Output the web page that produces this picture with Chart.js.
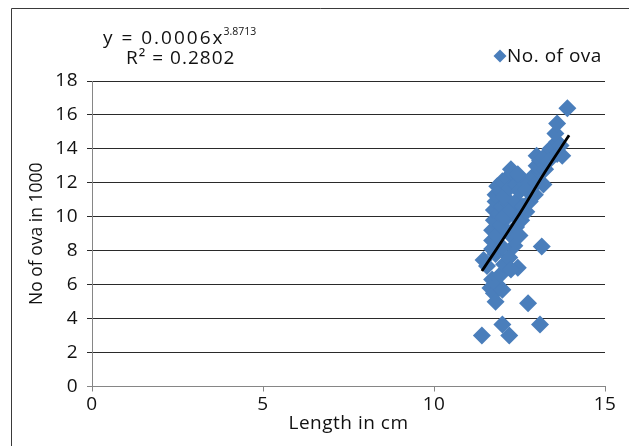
<!DOCTYPE html>
<html><head><meta charset="utf-8">
<script src="https://cdn.jsdelivr.net/npm/chart.js@4/dist/chart.umd.min.js"></script>
<style>html,body{margin:0;padding:0;background:#fff}canvas{display:block}</style>
</head><body>
<canvas id="c" width="629" height="446"></canvas>
<script>
// ---- data ----
const lengthCm = [
  11.45,11.55,11.7,11.65,11.75,11.8,11.85,11.95,12.05,12.2,12.45,12.25,11.8,11.7,12.35,12.0,
  11.7,11.7,11.75,11.85,11.95,12.0,12.1,12.2,12.3,12.4,12.5,12.55,12.7,11.75,11.8,11.9,12.0,12.05,12.15,12.25,12.4,12.6,12.8,12.95,
  11.8,11.85,11.95,12.0,12.05,12.15,12.2,12.3,12.4,12.5,12.6,12.7,12.8,12.9,13.0,13.1,13.2,13.0,12.25,12.45,13.1,13.25,
  13.0,13.2,13.4,13.6,13.75,13.6,13.55,13.6,13.9,13.35,13.7,
  11.4,12.2,12.0,13.1,12.75,13.15
];
const ovaThousands = [
  7.45,7.1,6.3,5.8,5.5,5.0,6.0,6.6,7.2,7.6,7.0,6.9,7.8,8.1,8.3,5.7,
  8.6,9.2,9.8,8.9,9.5,8.2,9.9,9.0,10.2,9.4,8.9,9.8,10.3,10.4,10.9,10.2,10.6,10.0,10.8,10.4,10.9,10.6,10.9,11.3,
  11.3,11.8,11.5,12.1,11.2,12.3,11.7,12.6,11.9,11.5,12.1,11.6,12.0,12.4,12.0,12.6,11.9,13.0,12.8,12.5,13.3,12.8,
  13.6,13.5,14.0,13.7,13.6,14.4,14.9,15.5,16.4,13.3,14.2,
  3.0,3.0,3.65,3.65,4.9,8.25
];
const trendX = [11.4, 12.4, 13.25, 13.95];
const trendY = [6.8, 9.85, 12.65, 14.8];
const xTicks = [0, 5, 10, 15];
const yTicks = [0, 2, 4, 6, 8, 10, 12, 14, 16, 18];
const seriesName = 'No. of ova';
const xTitle = 'Length in cm';
const yTitle = 'No of ova in 1000';
const eqMain = 'y = 0.0006x';
const eqExp = '3.8713';
const eqR2 = 'R² = 0.2802';

const FONT = "'Open Sans', 'Noto Sans', sans-serif";
const BLUE = '#4A7EBB';
const AXIS = '#868686';
const GRID = '#2a2a2a';
const TXT = '#111';

const overlay = {
  id: 'overlay',
  beforeDraw(chart) { chart.ctx.letterSpacing = '0.5px'; },
  afterDraw(chart) {
    const ctx = chart.ctx;
    ctx.save();
    // outer frame
    ctx.strokeStyle = '#3a3a3a';
    ctx.lineWidth = 1;
    ctx.beginPath();
    ctx.moveTo(11.5, 446); ctx.lineTo(11.5, 8.5); ctx.lineTo(629, 8.5);
    ctx.stroke();
    // equation
    ctx.fillStyle = TXT;
    ctx.textBaseline = 'alphabetic';
    ctx.textAlign = 'left';
    ctx.letterSpacing = '2px';
    ctx.font = '19px ' + FONT;
    const w1 = ctx.measureText(eqMain).width;
    ctx.fillText(eqMain, 103, 43.5);
    ctx.font = '10.5px ' + FONT;
    ctx.letterSpacing = '0px';
    ctx.fillText(eqExp, 103 + w1 - 1, 35);
    ctx.letterSpacing = '1px';
    ctx.font = '19px ' + FONT;
    ctx.fillText(eqR2, 126, 64);
    // legend
    ctx.letterSpacing = '0.5px';
    ctx.fillStyle = BLUE;
    const lx = 500, ly = 56, r = 6.5;
    ctx.beginPath();
    ctx.moveTo(lx - r, ly); ctx.lineTo(lx, ly - r); ctx.lineTo(lx + r, ly); ctx.lineTo(lx, ly + r);
    ctx.closePath(); ctx.fill();
    ctx.fillStyle = TXT;
    ctx.textBaseline = 'middle';
    ctx.font = '19px ' + FONT;
    ctx.fillText(seriesName, 507, 57);
    ctx.restore();
  }
};

function yFit(s) {
  s.width = 92;
  if (!s._patchedTitle) {
    const base = Object.getPrototypeOf(s).drawTitle;
    s.drawTitle = function () {
      const c = this.ctx, prev = c.letterSpacing;
      c.letterSpacing = '0px';
      base.call(this);
      c.letterSpacing = prev;
    };
    s._patchedTitle = true;
  }
}

new Chart(document.getElementById('c'), {
  type: 'scatter',
  data: {
    datasets: [
      {
        label: 'Power trend',
        type: 'line',
        data: trendX.map((x, i) => ({x, y: trendY[i]})),
        borderColor: '#000',
        borderWidth: 2.8,
        pointRadius: 0,
        fill: false,
        tension: 0.4,
        order: 0
      },
      {
        label: seriesName,
        data: lengthCm.map((x, i) => ({x, y: ovaThousands[i]})),
        pointStyle: 'rectRot',
        pointRadius: 9,
        pointHoverRadius: 9,
        backgroundColor: BLUE,
        borderWidth: 0,
        order: 1
      }
    ]
  },
  options: {
    responsive: false,
    animation: false,
    devicePixelRatio: 1,
    layout: { padding: { left: 0, right: 24, top: 81, bottom: 0 } },
    plugins: { legend: { display: false }, tooltip: { enabled: false } },
    scales: {
      x: {
        type: 'linear', min: 0, max: 15,
        afterBuildTicks: s => { s.ticks = xTicks.map(v => ({ value: v })); },
        afterFit: s => { s.height = 59.5; },
        grid: { drawOnChartArea: false, drawTicks: true, tickLength: 5, color: AXIS },
        border: { color: AXIS, width: 1 },
        ticks: { font: { family: FONT, size: 19 }, color: TXT, padding: 2, maxRotation: 0 },
        title: { display: true, text: xTitle, font: { family: FONT, size: 19 }, color: TXT, padding: { top: 0, bottom: 11 } }
      },
      y: {
        type: 'linear', min: 0, max: 18,
        afterBuildTicks: s => { s.ticks = yTicks.map(v => ({ value: v })); },
        afterFit: yFit,
        grid: { color: c => c.tick && c.tick.value === 0 ? AXIS : GRID, tickLength: 5, drawTicks: true },
        border: { color: AXIS, width: 1 },
        ticks: { font: { family: FONT, size: 19 }, color: TXT, padding: 9 },
        title: { display: true, text: yTitle, font: { family: FONT, size: 17.5 }, color: TXT, padding: { top: 27, bottom: 0 } }
      }
    }
  },
  plugins: [overlay]
});
</script>
</body></html>
